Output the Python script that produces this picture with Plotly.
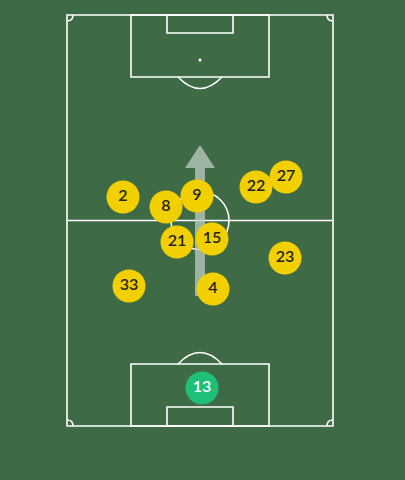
import plotly.graph_objects as go

# player shirt numbers and positions (pitch pixels, y grows downward)
numbers = ["2", "8", "9", "22", "27", "21", "15", "23", "33", "4"]
pos_x = [123, 166, 197, 256, 286, 177, 212, 285, 129, 213]
pos_y = [197, 207, 196, 187, 177, 242, 239, 258, 286, 289]
keeper = ["13"]
keeper_x = [202]
keeper_y = [388]

bg = "#3f6a46"
line = dict(color="white", width=1.6)
L, R, T, B = 67, 333, 15, 426
mid = (T + B) / 2
cx = (L + R) / 2

shapes = [
    dict(type="rect", x0=L, x1=R, y0=T, y1=B, line=line),
    dict(type="line", x0=L, x1=R, y0=mid, y1=mid, line=line),
    dict(type="circle", x0=cx - 29, x1=cx + 29, y0=mid - 29, y1=mid + 29, line=line),
    # top boxes
    dict(type="rect", x0=131, x1=269, y0=T, y1=77, line=line),
    dict(type="rect", x0=167, x1=233, y0=T, y1=33, line=line),
    dict(type="path", path="M 178,77 Q 200,100 222,77", line=line),
    dict(type="circle", x0=198.5, x1=201.5, y0=58.5, y1=61.5, fillcolor="white", line=dict(width=0)),
    # bottom boxes
    dict(type="rect", x0=131, x1=269, y0=364, y1=B, line=line),
    dict(type="rect", x0=167, x1=233, y0=407, y1=B, line=line),
    dict(type="path", path="M 178,364 Q 200,341 222,364", line=line),
    # corners
    dict(type="path", path=f"M {L},{T+6} Q {L+6},{T+6} {L+6},{T}", line=line),
    dict(type="path", path=f"M {R},{T+6} Q {R-6},{T+6} {R-6},{T}", line=line),
    dict(type="path", path=f"M {L},{B-6} Q {L+6},{B-6} {L+6},{B}", line=line),
    dict(type="path", path=f"M {R},{B-6} Q {R-6},{B-6} {R-6},{B}", line=line),
    # direction arrow
    dict(type="path",
         path="M 195,296 L 205,296 L 205,168 L 215,168 L 200,145 L 185,168 L 195,168 Z",
         fillcolor="rgba(190,205,195,0.75)", line=dict(width=0)),
]
for s in shapes:
    s["layer"] = "below"

fig = go.Figure()
fig.add_trace(go.Scatter(
    x=pos_x, y=pos_y, mode="markers+text", text=numbers,
    marker=dict(size=33, color="#f2d000", line=dict(width=0)),
    textfont=dict(size=16, color="#222222", family="Lato", weight=600),
    hoverinfo="skip",
))
fig.add_trace(go.Scatter(
    x=keeper_x, y=keeper_y, mode="markers+text", text=keeper,
    marker=dict(size=33, color="#1fbf7a", line=dict(width=0)),
    textfont=dict(size=16, color="white", family="Lato", weight=600),
    hoverinfo="skip",
))
# page body has an 8px margin; shift ranges so the pitch lands where it should
off = 8
fig.update_layout(
    width=405, height=480, margin=dict(l=0, r=0, t=0, b=0),
    paper_bgcolor=bg, plot_bgcolor=bg, showlegend=False, shapes=shapes,
    xaxis=dict(range=[off, 405 + off], visible=False, fixedrange=True),
    yaxis=dict(range=[480 + off, off], visible=False, fixedrange=True),
)
fig.write_html("out.html", post_script=f"document.body.style.background='{bg}';")
